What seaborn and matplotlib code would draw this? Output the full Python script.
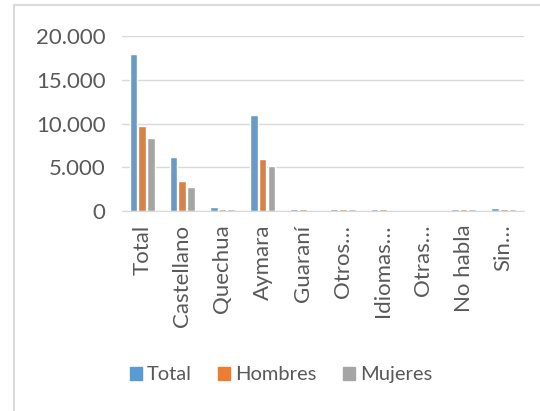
import pandas as pd
import numpy as np
import matplotlib.pyplot as plt
import seaborn as sns
from matplotlib.lines import Line2D
from matplotlib.ticker import FuncFormatter

# datos (idioma en que aprendió a hablar)
categorias = ['Total', 'Castellano', 'Quechua', 'Aymara', 'Guaraní',
              'Otros…', 'Idiomas…', 'Otras…', 'No habla', 'Sin…']
total = [17950, 6120, 490, 11030, 190, 190, 190, 0, 190, 300]
hombres = [9660, 3380, 190, 5970, 190, 190, 190, 0, 190, 190]
mujeres = [8290, 2780, 190, 5100, 0, 190, 0, 0, 190, 190]
series = ['Total', 'Hombres', 'Mujeres']
colores = ['#5B9BD5', '#ED7D31', '#A5A5A5']

df = pd.DataFrame({'categoria': categorias, 'Total': total,
                   'Hombres': hombres, 'Mujeres': mujeres})
df_long = df.melt(id_vars='categoria', var_name='serie', value_name='valor')

sns.set_style('white')
plt.rcParams['font.family'] = ['Lato', 'DejaVu Sans']
texto = '#595959'

fig = plt.figure(figsize=(5.4, 4.11), dpi=100)
ax = fig.add_axes([0.226, 0.487, 0.744, 0.425])

sns.barplot(data=df_long, x='categoria', y='valor', hue='serie',
            order=categorias, hue_order=series, palette=colores,
            width=0.65, gap=0.12, legend=False, ax=ax)

ax.set_ylim(0, 20000)
ax.set_yticks(np.arange(0, 20001, 5000))
ax.yaxis.set_major_formatter(FuncFormatter(lambda v, p: f'{int(v):,}'.replace(',', '.')))
ax.grid(axis='y', color='#D9D9D9', linewidth=1)
ax.set_axisbelow(True)
ax.set_xlabel('')
ax.set_ylabel('')
for s in ['top', 'right', 'left']:
    ax.spines[s].set_visible(False)
ax.spines['bottom'].set_color('#D9D9D9')
ax.tick_params(axis='both', length=0, colors=texto)
ax.tick_params(axis='y', labelsize=16, pad=12)
ax.tick_params(axis='x', labelsize=16, pad=10)
plt.setp(ax.get_xticklabels(), rotation=90)

handles = [plt.Rectangle((0, 0), 1, 1, color=c) for c in colores]
fig.legend(handles, series, loc='center', bbox_to_anchor=(0.52, 0.088),
           ncol=3, frameon=False, handlelength=0.6, handleheight=0.6,
           handletextpad=0.25, columnspacing=1.3, fontsize=14.5,
           labelcolor=texto)

# marco del gráfico (borde gris a la izquierda y arriba)
fig.add_artist(Line2D([0.026, 0.026], [0, 0.988], color='#D9D9D9', linewidth=1.5))
fig.add_artist(Line2D([0.026, 1], [0.988, 0.988], color='#D9D9D9', linewidth=1.5))

fig.savefig('out.png', dpi=100)
